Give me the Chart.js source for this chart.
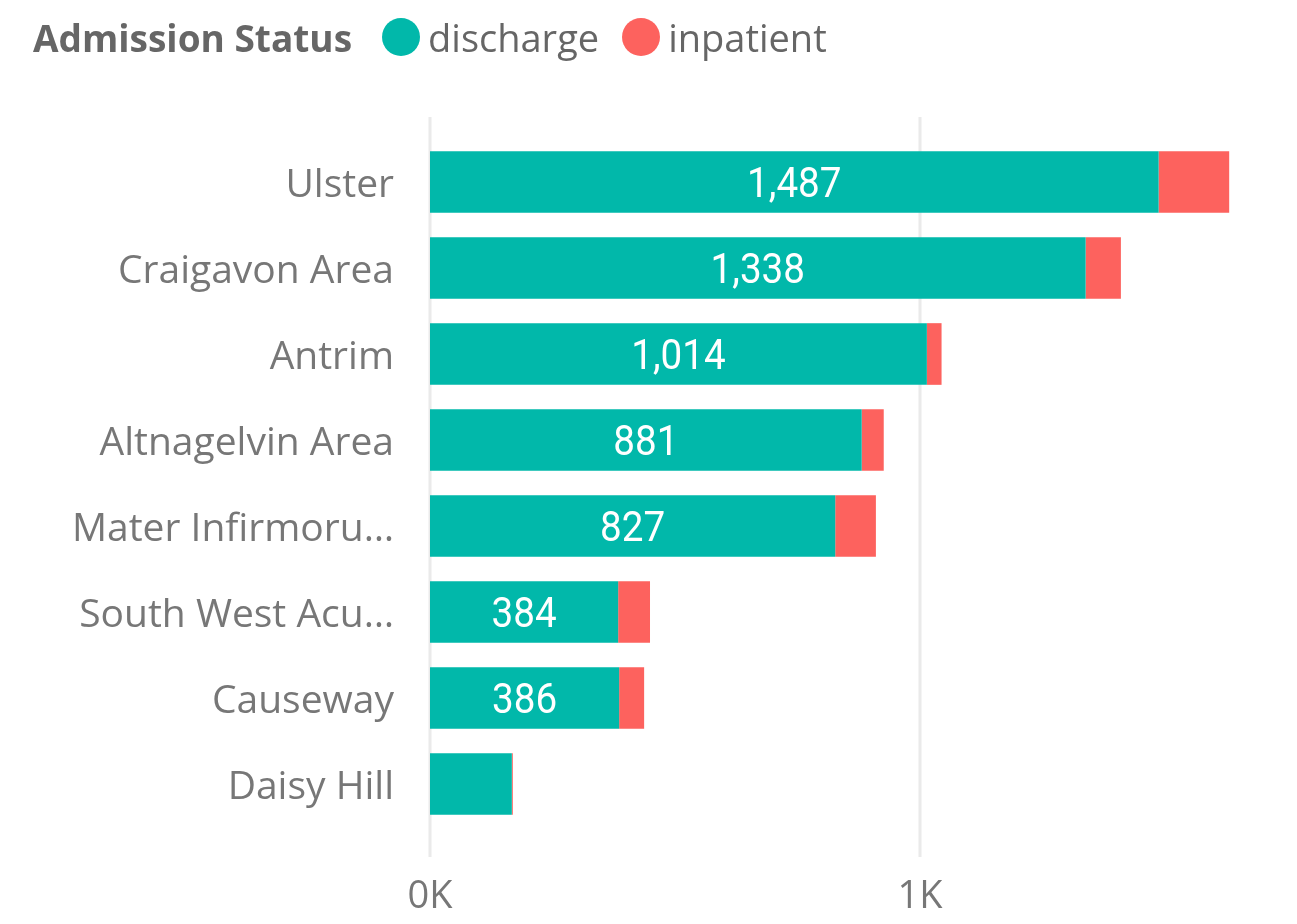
<!DOCTYPE html>
<html>
<head>
<meta charset="utf-8">
<script src="https://cdn.jsdelivr.net/npm/chart.js@4.4.1/dist/chart.umd.min.js"></script>
<style>
  html, body { margin: 0; padding: 0; background: #fff; }
  #wrap { position: relative; width: 1297px; height: 924px; }
  #legend { position: absolute; left: 33px; top: 11px; height: 52px; display: flex; align-items: center;
            font-family: "Open Sans", "Noto Sans", sans-serif; font-size: 38px; color: #666; white-space: nowrap; }
  #legend .title { font-weight: 700; font-size: 37px; margin-right: 30px; }
  #legend .item { display: flex; align-items: center; margin-right: 23px; }
  #legend .dot { width: 38px; height: 38px; border-radius: 50%; margin-right: 8px; }
  canvas { position: absolute; left: 0; top: 0; }
</style>
</head>
<body>
<div id="wrap">
  <canvas id="c" width="1297" height="924"></canvas>
  <div id="legend"></div>
</div>
<script>
const legendTitle = "Admission Status";
const categories = ["Ulster", "Craigavon Area", "Antrim", "Altnagelvin Area", "Mater Infirmoru…", "South West Acu…", "Causeway", "Daisy Hill"];
const seriesNames = ["discharge", "inpatient"];
const seriesColors = ["#01B8AA", "#FD625E"];
const discharge = [1487, 1338, 1014, 881, 827, 384, 386, 167];
const inpatient = [144, 72, 30, 45, 83, 65, 51, 2];
const xTickValues = [0, 1000];
const xTickLabels = ["0K", "1K"];

// HTML legend built from series data
const lg = document.getElementById('legend');
const t = document.createElement('span'); t.className = 'title'; t.textContent = legendTitle; lg.appendChild(t);
seriesNames.forEach((n, i) => {
  const it = document.createElement('span'); it.className = 'item';
  const d = document.createElement('span'); d.className = 'dot'; d.style.background = seriesColors[i];
  const s = document.createElement('span'); s.textContent = n;
  it.appendChild(d); it.appendChild(s); lg.appendChild(it);
});

const gridPlugin = {
  id: 'customGrid',
  beforeDatasetsDraw(chart) {
    const ctx = chart.ctx, xs = chart.scales.x, area = chart.chartArea;
    ctx.save();
    ctx.strokeStyle = '#EAEAEA';
    ctx.lineWidth = 3;
    xTickValues.forEach(v => {
      const px = Math.round(xs.getPixelForValue(v));
      ctx.beginPath();
      ctx.moveTo(px, area.top - 22);
      ctx.lineTo(px, area.bottom + 30);
      ctx.stroke();
    });
    ctx.restore();
  }
};

const labelPlugin = {
  id: 'barLabels',
  afterDatasetsDraw(chart) {
    const ctx = chart.ctx;
    const meta = chart.getDatasetMeta(0);
    ctx.save();
    ctx.fillStyle = '#FFFFFF';
    ctx.font = '400 42px Roboto, "DejaVu Sans", sans-serif';
    ctx.textAlign = 'center';
    ctx.textBaseline = 'middle';
    meta.data.forEach((bar, i) => {
      const txt = discharge[i].toLocaleString('en-US');
      const w = Math.abs(bar.x - bar.base);
      const tw = ctx.measureText(txt).width * 0.9;
      if (w < tw + 40) return;
      const cx = (bar.x + bar.base) / 2;
      ctx.save();
      ctx.translate(cx, bar.y + 4);
      ctx.scale(0.92, 1);
      ctx.fillText(txt, 0, 0);
      ctx.restore();
    });
    ctx.restore();
  }
};

new Chart(document.getElementById('c'), {
  type: 'bar',
  data: {
    labels: categories,
    datasets: [
      { label: seriesNames[0], data: discharge, backgroundColor: seriesColors[0] },
      { label: seriesNames[1], data: inpatient, backgroundColor: seriesColors[1] }
    ]
  },
  options: {
    indexAxis: 'y',
    responsive: false,
    animation: false,
    devicePixelRatio: 1,
    layout: { padding: { top: 139, right: 34, left: 0, bottom: 0 } },
    datasets: { bar: { categoryPercentage: 1, barPercentage: 0.717, borderWidth: 0 } },
    plugins: { legend: { display: false }, tooltip: { enabled: false } },
    scales: {
      x: {
        stacked: true, min: 0, max: 1700,
        grid: { display: false, drawTicks: false },
        border: { display: false },
        afterBuildTicks(scale) { scale.ticks = xTickValues.map(v => ({ value: v })); },
        afterFit(scale) { scale.height = 97; },
        ticks: {
          padding: 47,
          color: '#777',
          font: { family: '"Open Sans", "Noto Sans", sans-serif', size: 38 },
          callback: (v) => xTickLabels[xTickValues.indexOf(v)]
        }
      },
      y: {
        stacked: true,
        grid: { display: false, drawTicks: false },
        border: { display: false },
        afterFit(scale) { scale.width = 430; },
        ticks: {
          padding: 36,
          labelOffset: 4,
          color: '#777',
          font: { family: '"Open Sans", "Noto Sans", sans-serif', size: 39 }
        }
      }
    }
  },
  plugins: [gridPlugin, labelPlugin]
});
</script>
</body>
</html>
